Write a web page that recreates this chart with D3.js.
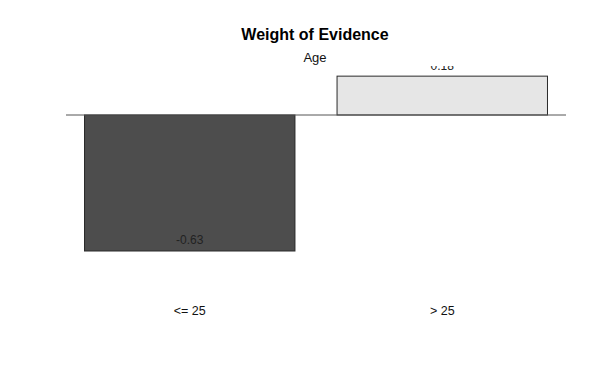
<!DOCTYPE html>
<html><head><meta charset="utf-8">
<script src="https://cdn.jsdelivr.net/npm/d3@7"></script>
<style>body{margin:0;background:#fff}svg{display:block}text{font-family:"Liberation Sans",Arial,sans-serif}</style>
</head><body>
<script>
const categories = ["<= 25", "> 25"];
const woeValues = [-0.63, 0.18];
const barFills = ["#4d4d4d", "#e6e6e6"];
const title = "Weight of Evidence";
const subtitle = "Age";

const W = 600, H = 368;
const svg = d3.select("body").append("svg").attr("width", W).attr("height", H);

// R barplot geometry: bars of width 1 with space 0.2
const lefts = categories.map((d, i) => 0.2 + i * 1.2);
const xmin = 0.2, xmax = lefts[lefts.length - 1] + 1;
const pad = (xmax - xmin) * 0.04;
const x = d3.scaleLinear().domain([xmin - pad, xmax + pad]).range([66, 566]);
const y = d3.scaleLinear().domain([0, -0.63]).range([115, 251]);

svg.append("defs").append("clipPath").attr("id", "plotclip")
  .append("rect").attr("x", 66).attr("y", 66).attr("width", 500).attr("height", 220);

const g = svg.append("g").attr("clip-path", "url(#plotclip)");

g.selectAll("rect.bar").data(woeValues).enter().append("rect")
  .attr("class", "bar")
  .attr("x", (d, i) => x(lefts[i]))
  .attr("width", (d, i) => x(lefts[i] + 1) - x(lefts[i]))
  .attr("y", d => Math.min(y(d), y(0)))
  .attr("height", d => Math.abs(y(d) - y(0)))
  .attr("fill", (d, i) => barFills[i])
  .attr("stroke", "#2a2a2a").attr("stroke-width", 1);

g.selectAll("text.val").data(woeValues).enter().append("text")
  .attr("class", "val")
  .attr("x", (d, i) => x(lefts[i] + 0.5))
  .attr("y", d => d < 0 ? y(d) - 7 : y(d) - 6)
  .attr("text-anchor", "middle").attr("font-size", 12).attr("fill", "#222")
  .text(d => d.toFixed(2));

svg.append("line").attr("x1", 66).attr("x2", 566).attr("y1", y(0)).attr("y2", y(0))
  .attr("stroke", "#555").attr("stroke-width", 1);

svg.selectAll("text.cat").data(categories).enter().append("text")
  .attr("class", "cat")
  .attr("x", (d, i) => x(lefts[i] + 0.5))
  .attr("y", 315)
  .attr("text-anchor", "middle").attr("font-size", 12.5).attr("fill", "#111")
  .text(d => d);

svg.append("text").attr("x", 315).attr("y", 40).attr("text-anchor", "middle")
  .attr("font-size", 16).attr("font-weight", "bold").attr("fill", "#000").text(title);
svg.append("text").attr("x", 315).attr("y", 62).attr("text-anchor", "middle")
  .attr("font-size", 13).attr("fill", "#111").text(subtitle);
</script>
</body></html>
